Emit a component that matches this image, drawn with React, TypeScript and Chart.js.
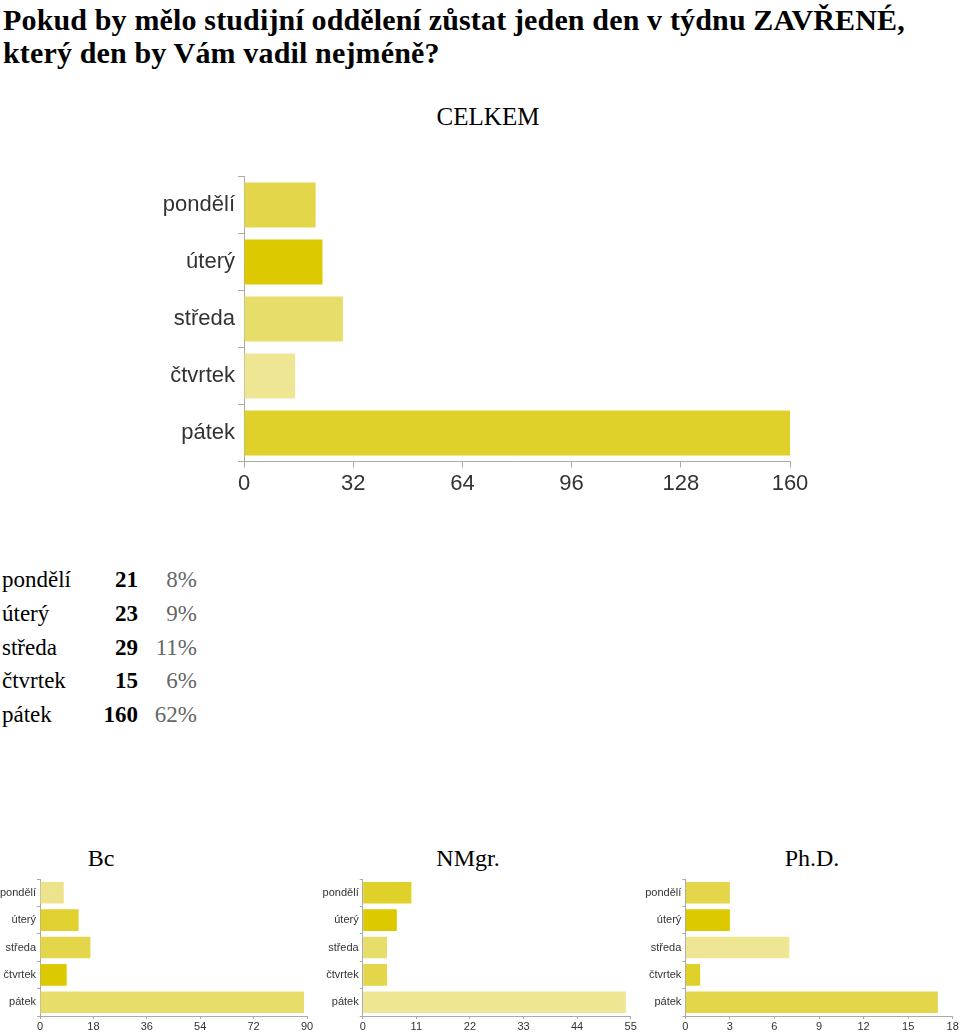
import React, { useEffect, useRef } from "react";
import { Chart, registerables } from "chart.js";

Chart.register(...registerables);

const days = ["pondělí", "úterý", "středa", "čtvrtek", "pátek"];

const totalValues = [21, 23, 29, 15, 160];
const totalPercents = ["8%", "9%", "11%", "6%", "62%"];
const totalColors = ["#e4d64a", "#dcc900", "#e7dd6a", "#efe694", "#e0d12a"];
const totalTicks = { max: 160, step: 32 };

const bcValues = [8, 13, 17, 9, 89];
const bcColors = ["#ede38c", "#e0d030", "#e4d64a", "#dcc900", "#e7dd6a"];
const bcTicks = { max: 90, step: 18 };

const nmgrValues = [10, 7, 5, 5, 54];
const nmgrColors = ["#e0d12a", "#dcc900", "#e7dd6a", "#e4d64a", "#efe694"];
const nmgrTicks = { max: 55, step: 11 };

const phdValues = [3, 3, 7, 1, 17];
const phdColors = ["#e4d64a", "#dcc900", "#efe694", "#e0d12a", "#e4d64a"];
const phdTicks = { max: 18, step: 3 };

type BarProps = {
  values: number[];
  colors: string[];
  max: number;
  step: number;
  left: number;
  top: number;
  width: number;
  height: number;
  yWidth: number;
  xHeight: number;
  padTop: number;
  padRight: number;
  fontSize: number;
  tickLen: number;
  tickPad: number;
};

function BarChart(p: BarProps) {
  const ref = useRef<HTMLCanvasElement>(null);
  useEffect(() => {
    if (!ref.current) return;
    const chart = new Chart(ref.current, {
      type: "bar",
      data: {
        labels: days,
        datasets: [
          {
            data: p.values,
            backgroundColor: p.colors,
            borderWidth: 0,
            barPercentage: 0.79,
            categoryPercentage: 1,
          },
        ],
      },
      options: {
        indexAxis: "y",
        animation: false,
        responsive: false,
        maintainAspectRatio: false,
        layout: { padding: { top: p.padTop, right: p.padRight, left: 0, bottom: 0 } },
        plugins: { legend: { display: false }, tooltip: { enabled: false } },
        scales: {
          x: {
            min: 0,
            max: p.max,
            afterFit: (s: any) => {
              s.height = p.xHeight;
            },
            ticks: {
              stepSize: p.step,
              color: "#333",
              padding: p.tickPad,
              maxRotation: 0,
              font: { family: "'Liberation Sans', Arial, sans-serif", size: p.fontSize },
            },
            grid: {
              drawOnChartArea: false,
              drawTicks: true,
              tickLength: p.tickLen,
              color: "#aaa",
            },
            border: { display: true, color: "#aaa" },
          },
          y: {
            afterFit: (s: any) => {
              s.width = p.yWidth;
            },
            ticks: {
              color: "#333",
              padding: p.tickPad,
              font: { family: "'Liberation Sans', Arial, sans-serif", size: p.fontSize },
            },
            grid: {
              drawOnChartArea: false,
              drawTicks: true,
              tickLength: p.tickLen,
              color: "#aaa",
            },
            border: { display: true, color: "#aaa" },
          },
        },
      },
    });
    return () => chart.destroy();
  }, []);
  return (
    <canvas
      ref={ref}
      width={p.width}
      height={p.height}
      style={{ position: "absolute", left: p.left, top: p.top, width: p.width, height: p.height }}
    />
  );
}

const serif = "'Liberation Serif', 'Times New Roman', serif";

function Label({ text, cx, cy, size }: { text: string; cx: number; cy: number; size: number }) {
  return (
    <div
      style={{
        position: "absolute",
        left: cx - 150,
        width: 300,
        top: cy - size * 0.6,
        lineHeight: `${size * 1.2}px`,
        textAlign: "center",
        fontFamily: serif,
        fontSize: size,
        color: "#000",
        whiteSpace: "nowrap",
      }}
    >
      {text}
    </div>
  );
}

export default function App() {
  useEffect(() => {
    document.body.style.margin = "0";
  }, []);
  return (
    <div style={{ position: "relative", width: 960, height: 1034, background: "#fff", overflow: "hidden" }}>
      <div
        style={{
          position: "absolute",
          left: 3,
          top: 3,
          fontFamily: serif,
          fontWeight: "bold",
          fontSize: 30,
          letterSpacing: "0.15px",
          lineHeight: "33px",
          whiteSpace: "nowrap",
          color: "#000",
        }}
      >
        Pokud by mělo studijní oddělení zůstat jeden den v týdnu ZAVŘENÉ,
        <br />
        který den by Vám vadil nejméně?
      </div>
      <Label text="CELKEM" cx={488} cy={117} size={25} />
      <BarChart
        values={totalValues}
        colors={totalColors}
        max={totalTicks.max}
        step={totalTicks.step}
        left={100}
        top={160}
        width={740}
        height={350}
        yWidth={144}
        xHeight={48.5}
        padTop={16.5}
        padRight={50}
        fontSize={22}
        tickLen={6}
        tickPad={3}
      />
      <div style={{ position: "absolute", left: 2, top: 563, fontFamily: serif, fontSize: 23 }}>
        {days.map((d, i) => (
          <div key={d} style={{ position: "relative", height: 33.8, lineHeight: "33.8px", width: 200 }}>
            <span style={{ position: "absolute", left: 0 }}>{d}</span>
            <span style={{ position: "absolute", right: 64, fontWeight: "bold" }}>{totalValues[i]}</span>
            <span style={{ position: "absolute", right: 5, color: "#666" }}>{totalPercents[i]}</span>
          </div>
        ))}
      </div>
      <Label text="Bc" cx={101} cy={858} size={24} />
      <Label text="NMgr." cx={468} cy={858} size={24} />
      <Label text="Ph.D." cx={812} cy={858} size={24} />
      <BarChart
        values={bcValues}
        colors={bcColors}
        max={bcTicks.max}
        step={bcTicks.step}
        left={0}
        top={870}
        width={330}
        height={164}
        yWidth={40}
        xHeight={18}
        padTop={9}
        padRight={23}
        fontSize={11}
        tickLen={3}
        tickPad={1}
      />
      <BarChart
        values={nmgrValues}
        colors={nmgrColors}
        max={nmgrTicks.max}
        step={nmgrTicks.step}
        left={320}
        top={870}
        width={330}
        height={164}
        yWidth={42.7}
        xHeight={18}
        padTop={9}
        padRight={19.3}
        fontSize={11}
        tickLen={3}
        tickPad={1}
      />
      <BarChart
        values={phdValues}
        colors={phdColors}
        max={phdTicks.max}
        step={phdTicks.step}
        left={640}
        top={870}
        width={320}
        height={164}
        yWidth={45.3}
        xHeight={18}
        padTop={9}
        padRight={7.3}
        fontSize={11}
        tickLen={3}
        tickPad={1}
      />
    </div>
  );
}
